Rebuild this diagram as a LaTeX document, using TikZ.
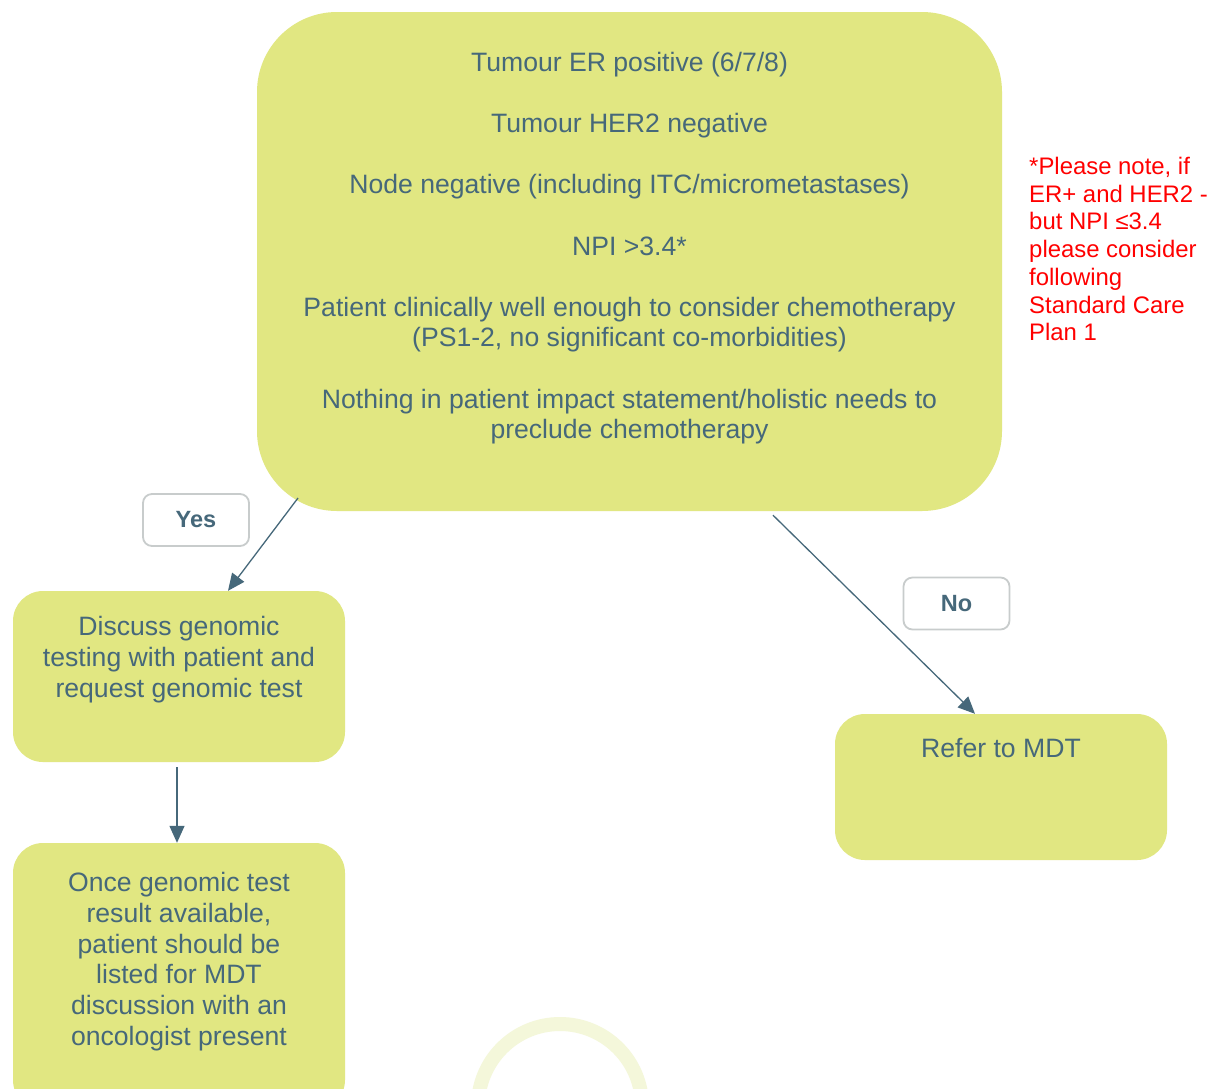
\documentclass[tikz,border=0pt]{standalone}
\usepackage{fontspec}
\setmainfont{Liberation Sans}
\usetikzlibrary{arrows.meta,calc}
\definecolor{boxfill}{RGB}{225,231,130}
\definecolor{txt}{RGB}{70,104,122}
\definecolor{lblborder}{RGB}{200,204,204}
\definecolor{ringc}{RGB}{244,247,218}
\definecolor{notered}{RGB}{255,0,0}
\begin{document}
\begin{tikzpicture}[x=1pt,y=-1pt,
  box/.style={fill=boxfill, draw=none, inner sep=0pt},
  btext/.style={text=txt, font=\fontsize{26.6}{31}\selectfont, align=center, inner sep=0pt, anchor=north},
  lbl/.style={draw=lblborder, line width=1.8pt, fill=white, rounded corners=9pt, minimum width=106pt, minimum height=52pt, inner sep=0pt, text=txt, font=\bfseries\fontsize{23.5}{27}\selectfont},
  arr/.style={draw=txt, line width=1.3pt, -{Triangle[length=17pt,width=15pt]}}
]
\clip (0,0) rectangle (1215,1088);
\fill[white] (0,0) rectangle (1215,1088);
% faint ring
\draw[ringc, line width=14pt] (560,1106) circle[radius=82];
% boxes
\node[box, rounded corners=80pt, minimum width=745pt, minimum height=499pt] (main) at (629.5,261.5) {};
\node[box, rounded corners=30pt, minimum width=332pt, minimum height=171pt] (disc) at (179,676.5) {};
\node[box, rounded corners=30pt, minimum width=332pt, minimum height=267pt] (once) at (179,976.5) {};
\node[box, rounded corners=30pt, minimum width=332pt, minimum height=146pt] (mdt) at (1001,787) {};
% texts
\node[btext, font=\fontsize{26.6}{30.6}\selectfont] (maintext) at (629.5,52) {Tumour ER positive (6/7/8)\\[30.6pt]
Tumour HER2 negative\\[30.6pt]
Node negative (including ITC/micrometastases)\\[30.6pt]
NPI >3.4*\\[30.6pt]
Patient clinically well enough to consider chemotherapy\\
(PS1-2, no significant co-morbidities)\\[30.6pt]
Nothing in patient impact statement/holistic needs to\\
preclude chemotherapy};
\node[btext] (disctext) at (179,616) {Discuss genomic\\testing with patient and\\request genomic test};
\node[btext, font=\fontsize{26.6}{30.8}\selectfont] (oncetext) at (179,872) {Once genomic test\\result available,\\patient should be\\listed for MDT\\discussion with an\\oncologist present};
\node[btext] (mdttext) at (1001,738) {Refer to MDT};
% note
\node[anchor=north west, align=left, inner sep=0pt, text=notered, font=\fontsize{23.9}{27.7}\selectfont] (note) at (1029,157) {*Please note, if\\ER+ and HER2 -\\but NPI ≤3.4\\please consider\\following\\Standard Care\\Plan 1};
% labels
\node[lbl] (yes) at (196,520) {Yes};
\node[lbl] (no) at (956.5,603.5) {No};
% connectors
\coordinate (yesS) at ([xshift=-331.5pt,yshift=-236.5pt]main.center);
\coordinate (yesE) at ([xshift=49pt]disc.north);
\coordinate (noS) at ([xshift=143.5pt,yshift=-4pt]main.south);
\coordinate (noE) at ([xshift=-26pt]mdt.north);
\draw[arr] (yesS) -- (yesE);
\draw[arr] (noS) -- (noE);
\draw[arr, shorten <=5pt] ([xshift=-2pt]disc.south) -- ([xshift=-2pt]once.north);
\end{tikzpicture}
\end{document}
